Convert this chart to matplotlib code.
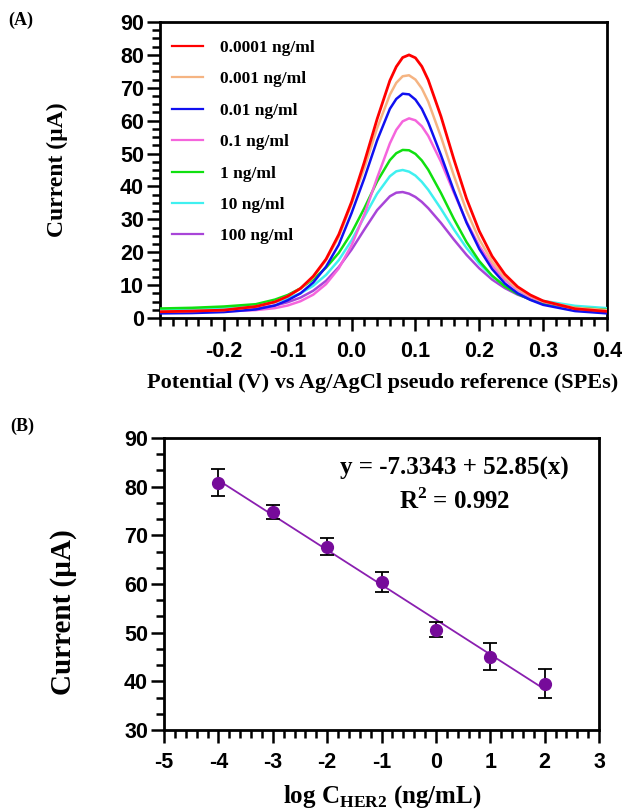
import numpy as np
import matplotlib
matplotlib.use('Agg')
import matplotlib.pyplot as plt
from matplotlib.ticker import MultipleLocator, AutoMinorLocator

plt.rcParams['mathtext.fontset'] = 'custom'
plt.rcParams['mathtext.rm'] = 'Liberation Serif:bold'
plt.rcParams['mathtext.bf'] = 'Liberation Serif:bold'
plt.rcParams['axes.unicode_minus'] = False

# ---- panel A: DPV curves ----
potential = [-0.30, -0.25, -0.20, -0.15, -0.12, -0.10, -0.08, -0.06, -0.04, -0.02,
             0.00, 0.02, 0.04, 0.06, 0.07, 0.08, 0.09, 0.10, 0.11, 0.12,
             0.14, 0.16, 0.18, 0.20, 0.22, 0.24, 0.26, 0.28, 0.30, 0.35, 0.40]

i_00001 = [1.9, 2.1, 2.4, 3.5, 4.9, 6.6, 9.0, 12.7, 17.9, 25.4,
           35.3, 47.4, 60.5, 72.2, 76.4, 79.2, 80.0, 79.1, 76.5, 72.4,
           61.3, 48.4, 36.3, 26.4, 18.8, 13.3, 9.5, 7.0, 5.2, 2.8, 2.0]
i_0001 = [1.9, 2.1, 2.4, 3.5, 4.9, 6.6, 8.9, 12.4, 17.6, 24.7,
          34.7, 45.6, 57.7, 67.9, 71.5, 73.5, 73.8, 72.5, 69.8, 65.8,
          55.1, 43.4, 32.6, 23.9, 17.2, 12.3, 8.9, 6.7, 5.1, 3.1, 2.4]
i_001 = [1.4, 1.5, 1.8, 2.6, 3.8, 5.4, 7.5, 10.8, 15.6, 22.3,
         31.9, 42.5, 54.0, 63.6, 66.6, 68.2, 68.0, 66.4, 63.6, 59.5,
         49.5, 38.8, 29.0, 21.0, 14.9, 10.5, 7.5, 5.5, 4.0, 2.1, 1.4]
i_01 = [1.8, 1.9, 2.0, 2.4, 3.0, 3.8, 5.1, 7.1, 10.3, 15.1,
        22.1, 31.5, 42.6, 53.1, 57.2, 59.8, 60.7, 60.1, 58.3, 55.4,
        47.5, 38.2, 29.3, 21.9, 16.0, 11.6, 8.5, 6.3, 4.9, 2.9, 2.2]
i_1 = [2.9, 3.1, 3.5, 4.2, 5.6, 7.0, 9.0, 11.8, 15.3, 19.8,
       25.9, 33.4, 41.5, 48.0, 50.1, 51.1, 51.0, 49.9, 47.9, 45.1,
       38.0, 30.2, 23.1, 17.3, 12.9, 9.6, 7.3, 5.6, 4.5, 3.1, 2.5]
i_10 = [2.5, 2.7, 3.1, 3.8, 4.8, 6.0, 7.5, 9.8, 13.1, 17.6,
        23.6, 30.8, 37.8, 43.1, 44.6, 45.0, 44.5, 43.3, 41.4, 39.0,
        33.2, 27.0, 21.3, 16.5, 12.7, 9.8, 7.7, 6.2, 5.2, 3.7, 3.0]
i_100 = [2.0, 2.1, 2.3, 2.9, 3.8, 4.8, 6.2, 8.3, 11.3, 15.5,
         20.8, 26.9, 32.8, 37.0, 38.1, 38.3, 37.8, 36.8, 35.3, 33.4,
         28.9, 23.9, 19.2, 15.1, 11.7, 9.1, 7.1, 5.7, 4.6, 3.1, 2.4]

labels = ['0.0001 ng/ml', '0.001 ng/ml', '0.01 ng/ml', '0.1 ng/ml',
          '1 ng/ml', '10 ng/ml', '100 ng/ml']
curves = [i_00001, i_0001, i_001, i_01, i_1, i_10, i_100]
colors = ['#ff0000', '#f5b482', '#1010f0', '#f565dc', '#10e010', '#40f0f0', '#a845d8']

# ---- panel B: calibration ----
log_conc = [-4, -3, -2, -1, 0, 1, 2]
current = [80.8, 74.8, 67.7, 60.4, 50.6, 45.1, 39.5]
current_err = [2.8, 1.4, 1.8, 2.1, 1.5, 2.8, 3.0]

sans = 'Liberation Sans'
serif = 'Liberation Serif'

fig = plt.figure(figsize=(6.28, 8.10), dpi=100)

def style_axes(ax, lw):
    for s in ax.spines.values():
        s.set_linewidth(lw)
    ax.tick_params(which='major', direction='out', length=9.5, width=1.8, pad=2)
    ax.tick_params(which='minor', direction='out', length=5.5, width=1.8)
    for lab in ax.get_xticklabels() + ax.get_yticklabels():
        lab.set_fontfamily(sans)
        lab.set_fontweight('bold')
        lab.set_fontsize(15.5)

# panel A
axA = fig.add_axes([160/628, 1-318/810, 447/628, 296/810])
handles = []
for k, (y, lab, c) in enumerate(zip(curves, labels, colors)):
    h, = axA.plot(potential, y, color=c, lw=2.0 if k == 0 else 1.8,
                  label=lab, zorder=10-k)
    handles.append(h)
axA.set_xlim(-0.3, 0.4)
axA.set_ylim(0, 90)
axA.set_xticks([-0.2, -0.1, 0.0, 0.1, 0.2, 0.3, 0.4])
axA.xaxis.set_minor_locator(MultipleLocator(0.02))
axA.yaxis.set_major_locator(MultipleLocator(10))
axA.yaxis.set_minor_locator(AutoMinorLocator(4))
style_axes(axA, 2.0)
axA.tick_params(axis='x', pad=7)
axA.set_xlabel('Potential (V) vs Ag/AgCl pseudo reference (SPEs)',
               fontfamily=serif, fontweight='bold', fontsize=16, va='center')
axA.xaxis.set_label_coords(0.497, -0.22)
axA.set_ylabel('Current (µA)', fontfamily=serif, fontweight='bold',
               fontsize=17, va='center')
axA.yaxis.set_label_coords(-0.23, 0.5)
leg = axA.legend(handles=handles, loc='upper left', bbox_to_anchor=(0.027, 0.94),
                 frameon=False, borderpad=0, borderaxespad=0, handlelength=1.8,
                 handletextpad=0.95, labelspacing=0.88,
                 prop={'family': serif, 'weight': 'bold', 'size': 12.5})
for line in leg.get_lines():
    line.set_linewidth(1.6)

# panel B
axB = fig.add_axes([164/628, 1-730/810, 435/628, 292/810])
slope, intercept = np.polyfit(log_conc, current, 1)
fit_x = np.array([log_conc[0], log_conc[-1]])
axB.plot(fit_x, slope*fit_x + intercept, color='#8a1fb0', lw=1.3, zorder=2)
axB.errorbar(log_conc, current, yerr=current_err, fmt='none', ecolor='black',
             elinewidth=1.3, capsize=5, capthick=1.3, zorder=3)
axB.plot(log_conc, current, 'o', color='#760b9a', ms=8.5, zorder=4)
axB.set_xlim(-5, 3)
axB.set_ylim(30, 90)
axB.xaxis.set_major_locator(MultipleLocator(1))
axB.xaxis.set_minor_locator(AutoMinorLocator(5))
axB.yaxis.set_major_locator(MultipleLocator(10))
axB.yaxis.set_minor_locator(AutoMinorLocator(3))
style_axes(axB, 2.0)
axB.tick_params(axis='x', pad=6)
axB.set_xlabel('log C$_{\\mathrm{HER2}}$ (ng/mL)', fontfamily=serif,
               fontweight='bold', fontsize=18, va='center')
axB.xaxis.set_label_coords(0.501, -0.229)
axB.set_ylabel('Current (µA)', fontfamily=serif, fontweight='bold',
               fontsize=21, va='center')
axB.yaxis.set_label_coords(-0.232, 0.404)
axB.text(0.667, 0.895, 'y = -7.3343 + 52.85(x)', transform=axB.transAxes,
         ha='center', va='center', fontfamily=serif, fontweight='bold', fontsize=18)
axB.text(0.667, 0.785, 'R$^{2}$ = 0.992', transform=axB.transAxes,
         ha='center', va='center', fontfamily=serif, fontweight='bold', fontsize=18)

fig.text(8/628, 1-20/810, '(A)', fontfamily=serif, fontweight='bold',
         fontsize=13, va='center', ha='left')
fig.text(10/628, 1-426/810, '(B)', fontfamily=serif, fontweight='bold',
         fontsize=13, va='center', ha='left')

fig.savefig('out.png', dpi=100)
